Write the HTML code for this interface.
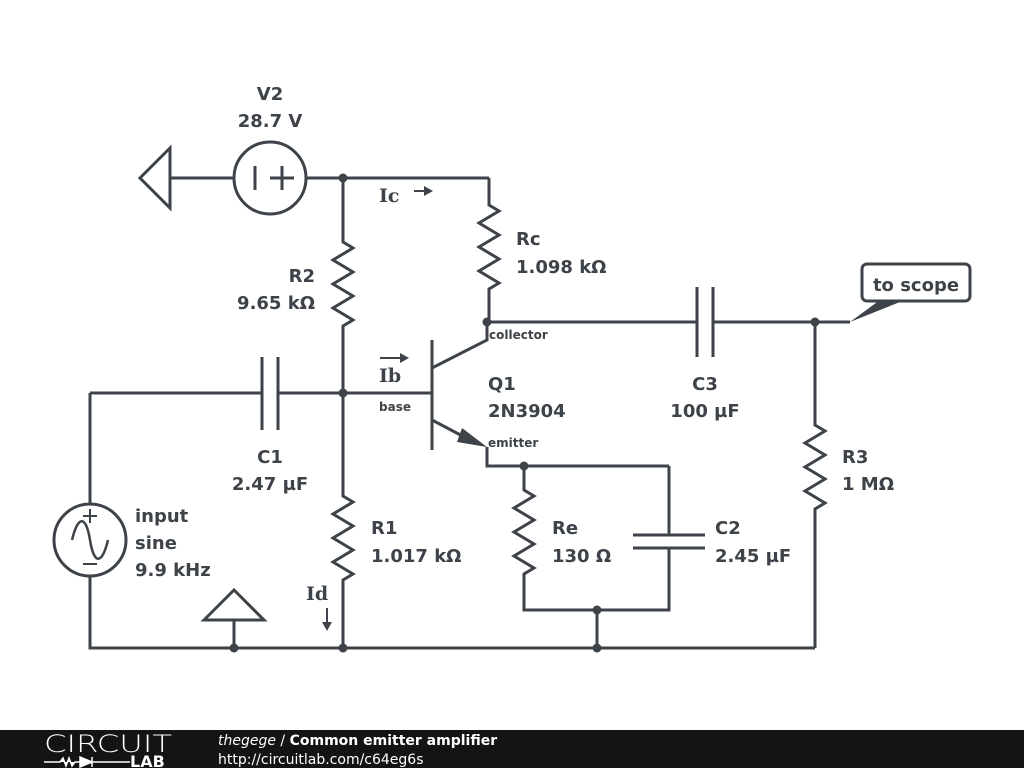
<!DOCTYPE html>
<html><head><meta charset="utf-8"><style>
body{margin:0;width:1024px;height:768px;background:#fff;overflow:hidden;position:relative;font-family:"DejaVu Sans",sans-serif}
svg{position:absolute;left:0;top:0}
</style></head><body>
<svg width="1024" height="768" viewBox="0 0 1024 768">
<g stroke="#3d4348" stroke-width="3" fill="none" stroke-linejoin="miter">
<path d="M170 148 L140 178 L170 208 Z M170 178 H234"/>
<circle cx="270" cy="178" r="36"/>
<path d="M255 166 V190 M270 178 H294 M282 166 V190"/>
<path d="M306 178 H489"/>
<path d="M489 178 V205 l10 6 l-20 12 l20 12 l-20 12 l20 12 l-20 12 l20 12 l-10 6 V322"/>
<path d="M489 322 H697 M713 322 H850 M697 287 V357 M713 287 V357"/>
<path d="M343 178 V242 l10 6 l-20 12 l20 12 l-20 12 l20 12 l-20 12 l20 12 l-10 6 V393"/>
<path d="M90 393 H262 M278 393 H432 M262 357 V430 M278 357 V430"/>
<path d="M432 340 V450 M432 368 L487 340 V322 M432 420 L470 440 M487 447 V466 H669"/>
<path d="M524 466 V490 l10 6 l-20 12 l20 12 l-20 12 l20 12 l-20 12 l20 12 l-10 6 V610 H669 V548 M669 535 V466 M633 535 H705 M633 548 H705 M597 610 V648"/>
<path d="M343 393 V496 l10 6 l-20 12 l20 12 l-20 12 l20 12 l-20 12 l20 12 l-10 6 V648"/>
<path d="M90 393 V504 M90 576 V648 H815 M815 322 V425 l10 6 l-20 12 l20 12 l-20 12 l20 12 l-20 12 l20 12 l-10 6 V648"/>
<circle cx="90" cy="540" r="36"/>
<path d="M72 540 C78 515 86 515 90 540 C94 565 102 565 108 540" stroke-width="2.5"/>
<path d="M83 516 H97 M90 509 V523 M83 564 H97" stroke-width="2"/>
<path d="M204 620 L234 590 L264 620 Z M234 620 V648"/>
<path d="M414 191 H428 M380 358 H404 M327 608 V626" stroke-width="2"/>
</g>
<g fill="#3d4348">
<path d="M487 447 L462 428 L457 442 Z"/>
<path d="M433 191 L424 186 L424 196 Z"/>
<path d="M409 358 L400 353 L400 363 Z"/>
<path d="M327 631 L322 622 L332 622 Z"/>
<circle cx="343" cy="178" r="4.5"/><circle cx="487" cy="322" r="4.5"/><circle cx="815" cy="322" r="4.5"/>
<circle cx="343" cy="393" r="4.5"/><circle cx="524" cy="466" r="4.5"/><circle cx="597" cy="610" r="4.5"/>
<circle cx="234" cy="648" r="4.5"/><circle cx="343" cy="648" r="4.5"/><circle cx="597" cy="648" r="4.5"/>
<path d="M850 322 L880 300 L905 300 Z"/>
</g>
<rect x="862" y="264" width="108" height="37" rx="5" fill="#fff" stroke="#3d4348" stroke-width="3"/>
<g fill="#3d4348" font-family="DejaVu Sans,sans-serif" font-weight="bold" font-size="18">
<text x="916" y="291" text-anchor="middle">to scope</text>
<text x="270" y="100" text-anchor="middle">V2</text>
<text x="270" y="127" text-anchor="middle">28.7 V</text>
<text x="516" y="245">Rc</text><text x="516" y="273">1.098 kΩ</text>
<text x="315" y="282" text-anchor="end">R2</text><text x="315" y="309" text-anchor="end">9.65 kΩ</text>
<text x="488" y="390">Q1</text><text x="488" y="417">2N3904</text>
<text x="705" y="390" text-anchor="middle">C3</text><text x="705" y="417" text-anchor="middle">100 µF</text>
<text x="270" y="463" text-anchor="middle">C1</text><text x="270" y="490" text-anchor="middle">2.47 µF</text>
<text x="842" y="463">R3</text><text x="842" y="490">1 MΩ</text>
<text x="135" y="522">input</text><text x="135" y="549">sine</text><text x="135" y="576">9.9 kHz</text>
<text x="371" y="534">R1</text><text x="371" y="562">1.017 kΩ</text>
<text x="552" y="534">Re</text><text x="552" y="562">130 Ω</text>
<text x="715" y="534">C2</text><text x="715" y="562">2.45 µF</text>
</g>
<g fill="#3d4348" font-family="DejaVu Serif,serif" font-weight="bold" font-size="19">
<text x="379" y="202">Ic</text><text x="379" y="382">Ib</text><text x="306" y="600">Id</text>
</g>
<g fill="#3d4348" font-family="DejaVu Sans,sans-serif" font-weight="bold" font-size="12">
<text x="489" y="339">collector</text><text x="379" y="411">base</text><text x="488" y="447">emitter</text>
</g>
<rect x="0" y="730" width="1024" height="38" fill="#141414"/>
<text x="44" y="752" fill="#fff" font-family="DejaVu Sans,sans-serif" font-weight="200" font-size="24" textLength="128" lengthAdjust="spacingAndGlyphs">CIRCUIT</text>
<path d="M44 762 H60 l3 -4 l3 8 l3 -8 l3 8 l3 -4 H80 M80 757 V767 L92 762 Z M92 757 V767 M92 762 H130" stroke="#fff" stroke-width="1.5" fill="#fff"/>
<text x="130" y="767" fill="#fff" font-family="DejaVu Sans,sans-serif" font-weight="bold" font-size="16">LAB</text>
<text x="218" y="745" fill="#fff" font-family="DejaVu Sans,sans-serif" font-size="14"><tspan font-style="italic">thegege</tspan> / <tspan font-weight="bold">Common emitter amplifier</tspan></text>
<text x="218" y="764" fill="#fff" font-family="DejaVu Sans,sans-serif" font-size="14">http://circuitlab.com/c64eg6s</text>
</svg>
</body></html>
